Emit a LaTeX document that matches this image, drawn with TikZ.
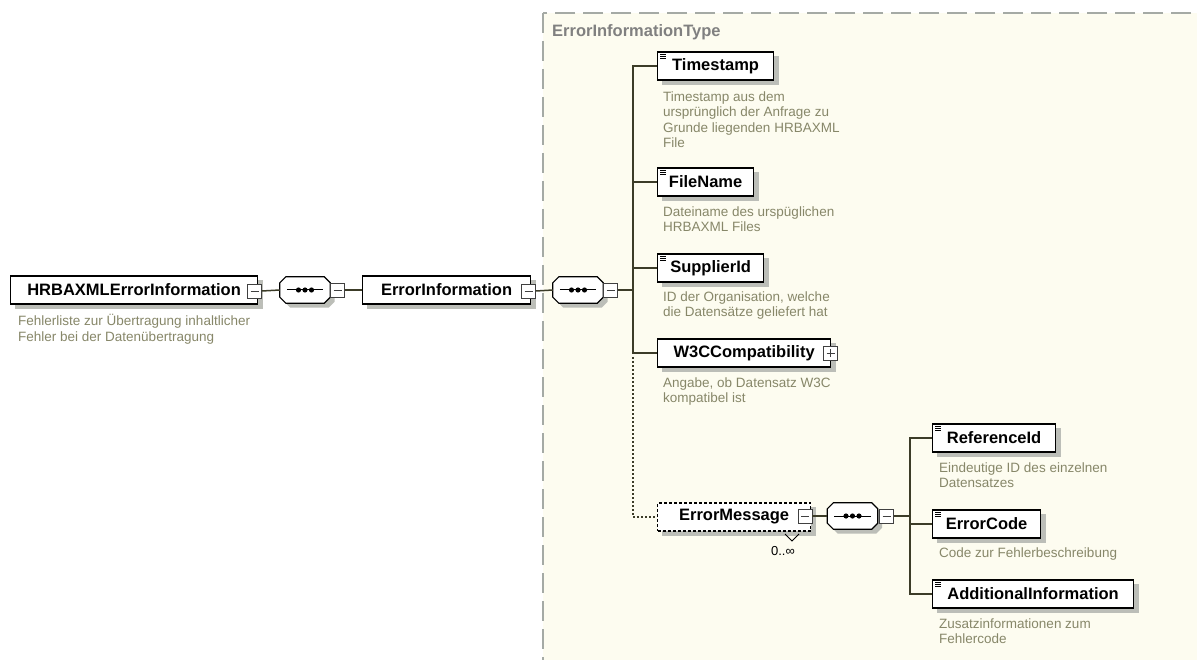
\documentclass[tikz,border=0pt]{standalone}
\usepackage{fontspec}
\setmainfont{Liberation Sans}
\definecolor{conncol}{RGB}{60,60,40}
\definecolor{desccol}{RGB}{135,135,105}
\definecolor{shadowc}{RGB}{188,190,184}
\definecolor{typefill}{RGB}{253,252,240}
\definecolor{typeline}{RGB}{165,170,165}
\definecolor{typetext}{RGB}{128,128,128}
\newcommand\lblfont{\fontsize{16.5}{18}\selectfont\bfseries}
\newcommand\dscfont{\fontsize{13.5}{15.3}\selectfont}
\newcommand\occfont{\fontsize{13}{15}\selectfont}
\pgfdeclarelayer{bg}
\pgfsetlayers{bg,main}
% #1 node, #2 x shift, #3 downward shift, #4 path options
\newcommand\octa[4]{\path[#4] ([xshift={6pt+#2},yshift={-#3}]#1.north west) -- ([xshift={-6pt+#2},yshift={-#3}]#1.north east) -- ([xshift=#2,yshift={-6pt-#3}]#1.north east) -- ([xshift=#2,yshift={6pt-#3}]#1.south east) -- ([xshift={-6pt+#2},yshift={-#3}]#1.south east) -- ([xshift={6pt+#2},yshift={-#3}]#1.south west) -- ([xshift=#2,yshift={6pt-#3}]#1.south west) -- ([xshift=#2,yshift={-6pt-#3}]#1.north west) -- cycle;}
\newcommand\seqdots[1]{%
  \draw[line width=1pt] ([xshift=7pt]#1.west) -- ([xshift=-7pt]#1.east);
  \fill ([xshift=-6.5pt]#1.center) circle[radius=2.6pt];
  \fill (#1.center) circle[radius=2.6pt];
  \fill ([xshift=6.5pt]#1.center) circle[radius=2.6pt];}
\begin{document}
\begin{tikzpicture}[x=1pt,y=-1pt,
  elem/.style={draw=black,line width=1.2pt,fill=white,minimum height=28pt,inner sep=0pt,
    font=\lblfont,anchor=west},
  minusbox/.style={draw=black!75,line width=0.9pt,fill=white,minimum size=14pt,inner sep=0pt,
    path picture={\draw[line width=0.9pt] ([xshift=3pt]path picture bounding box.west) -- ([xshift=-3pt]path picture bounding box.east);}},
  plusbox/.style={draw=black!75,line width=0.9pt,fill=white,minimum size=14pt,inner sep=0pt,
    path picture={\draw[line width=0.9pt] ([xshift=3pt]path picture bounding box.west) -- ([xshift=-3pt]path picture bounding box.east);
      \draw[line width=0.9pt] ([yshift=-3pt]path picture bounding box.north) -- ([yshift=3pt]path picture bounding box.south);}},
  seqnode/.style={minimum width=50pt,minimum height=26pt,inner sep=0pt,draw=none},
  conn/.style={draw=conncol,line width=1.5pt},
  desc/.style={anchor=north west,inner sep=0pt,align=left,font=\dscfont,text=desccol},
  typelbl/.style={anchor=west,inner sep=0pt,font=\lblfont,text=typetext},
  eqicon/.style={line width=0.6pt}
]
\useasboundingbox (0,0) rectangle (1197,660);
\begin{pgfonlayer}{bg}
\fill[white] (0,0) rectangle (1197,660);
\draw[draw=typeline,line width=1.5pt,dash pattern=on 20pt off 8pt,fill=typefill] (543,13) rectangle (1230,700);
\end{pgfonlayer}
\node[typelbl] (tlbl) at (552,32) {ErrorInformationType};

% nodes
\node[elem,minimum width=247pt] (hr) at (10,290) {HRBAXMLErrorInformation};
\node[seqnode] (seq1) at (305,290) {};
\node[elem,minimum width=168pt] (ei) at (362,290) {ErrorInformation};
\node[seqnode] (seq2) at (578,290) {};
\coordinate (v2) at (633,290);
\coordinate (v2b) at (633,353);
\node[elem,minimum width=116pt] (ts) at (657,66) {Timestamp};
\node[elem,minimum width=96pt] (fn) at (657,182) {FileName};
\node[elem,minimum width=106pt] (si) at (657,268) {SupplierId};
\node[elem,minimum width=173pt] (w3c) at (657,353) {W3CCompatibility};
\node[elem,dash pattern=on 3pt off 2pt,minimum width=153pt] (em) at (657,517) {ErrorMessage};
\node[seqnode] (seq3) at (852.5,516) {};
\coordinate (v3) at (910,516);
\node[elem,minimum width=123pt] (ri) at (932,438) {ReferenceId};
\node[elem,minimum width=108pt] (ec) at (932,524) {ErrorCode};
\node[elem,minimum width=201pt] (ai) at (932,594) {AdditionalInformation};

% shadows
\begin{pgfonlayer}{bg}
\foreach \n in {hr,ei,ts,fn,si,w3c,em,ri,ec,ai}{
  \fill[shadowc] ([xshift=4.5pt,yshift=-4.5pt]\n.north west) rectangle ([xshift=4.5pt,yshift=-4.5pt]\n.south east);
}
\foreach \n in {seq1,seq2,seq3}{\octa{\n}{4.5pt}{4.5pt}{fill=shadowc}}
\end{pgfonlayer}

% sequence compositors
\foreach \n in {seq1,seq2,seq3}{\octa{\n}{0pt}{0pt}{draw=black,line width=1.2pt,fill=white}\seqdots{\n}}

% expand boxes
\node[minusbox] (mhr) at (254.5,291) {};
\node[minusbox] (mseq1) at (337.5,290) {};
\node[minusbox] (mei) at (528.5,291) {};
\node[minusbox] (mseq2) at (610.5,290) {};
\node[plusbox] (pw3c) at (830.5,353) {};
\node[minusbox] (mem) at (805,516) {};
\node[minusbox] (mseq3) at (886.5,516) {};

% equal icons
\foreach \n in {ts,fn,si,ri,ec,ai}{
  \draw[eqicon] ([xshift=3pt,yshift=-2.5pt]\n.north west) -- ++(6,0);
  \draw[eqicon] ([xshift=3pt,yshift=-4.5pt]\n.north west) -- ++(6,0);
  \draw[eqicon] ([xshift=3pt,yshift=-6.5pt]\n.north west) -- ++(6,0);
}

% occurrence
\draw[line width=0.8pt] (785,534) -- (792,541) -- (799,534);
\node[font=\occfont,inner sep=0pt] (occ) at (783,551) {0..∞};

% connectors
\draw[conn] (mhr.east) -- (seq1.west);
\draw[conn] (mseq1.east) -- (ei.west);
\draw[conn] (mei.east) -- (seq2.west);
\draw[conn] (mseq2.east) -- (v2);
\draw[conn] (v2) |- (ts.west);
\draw[conn] (v2) |- (fn.west);
\draw[conn] (v2) |- (si.west);
\draw[conn] (v2) |- (w3c.west);
\draw[conn,dash pattern=on 1.5pt off 2.5pt] (v2b) |- (em.west);
\draw[conn] (mem.east) -- (seq3.west);
\draw[conn] (mseq3.east) -- (v3);
\draw[conn] (v3) |- (ri.west);
\draw[conn] (v3) |- (ec.west);
\draw[conn] (v3) |- (ai.west);

% descriptions
\node[desc] (dhr) at (18,314.5) {\strut Fehlerliste zur Übertragung inhaltlicher\\Fehler bei der Datenübertragung};
\node[desc] (dts) at (663,90.5) {\strut Timestamp aus dem\\ursprünglich der Anfrage zu\\Grunde liegenden HRBAXML\\File};
\node[desc] (dfn) at (663,205.5) {\strut Dateiname des urspüglichen\\HRBAXML Files};
\node[desc] (dsi) at (663,290.5) {\strut ID der Organisation, welche\\die Datensätze geliefert hat};
\node[desc] (dw3c) at (663,376.5) {\strut Angabe, ob Datensatz W3C\\kompatibel ist};
\node[desc] (dri) at (939,461.5) {\strut Eindeutige ID des einzelnen\\Datensatzes};
\node[desc] (dec) at (939,546.5) {\strut Code zur Fehlerbeschreibung};
\node[desc] (dai) at (939,617.5) {\strut Zusatzinformationen zum\\Fehlercode};
\end{tikzpicture}
\end{document}
